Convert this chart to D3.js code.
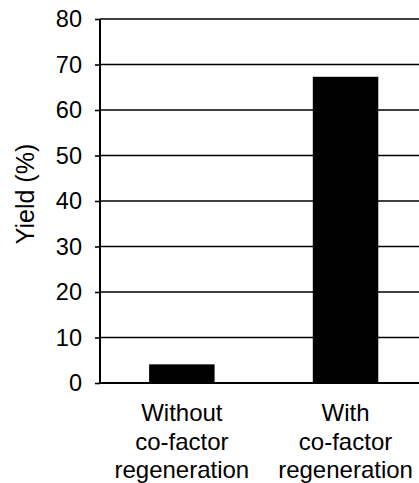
<!DOCTYPE html>
<html>
<head>
<meta charset="utf-8">
<script src="https://cdn.jsdelivr.net/npm/d3@7"></script>
<style>
  html, body { margin: 0; padding: 0; background: #fff; }
  svg { display: block; }
  text { font-family: "Liberation Sans", Arial, sans-serif; fill: #000; }
</style>
</head>
<body>
<svg id="chart" width="419" height="483"></svg>
<script>
const categories = [
  ["Without", "co-factor", "regeneration"],
  ["With", "co-factor", "regeneration"]
];
const categoryKeys = ["without", "with"];
const yields = [4.1, 67.3];
const yTicks = [0, 10, 20, 30, 40, 50, 60, 70, 80];
const yTitle = "Yield (%)";

const svg = d3.select("#chart");
const plotLeft = 100, plotRight = 427.4, plotTop = 19, plotBottom = 383;

const x = d3.scaleBand().domain(categoryKeys).range([plotLeft, plotRight])
  .paddingInner(0.6).paddingOuter(0.3);
const y = d3.scaleLinear().domain([0, 80]).range([plotBottom, plotTop]);

// gridlines
svg.append("g").selectAll("line").data(yTicks.filter(d => d > 0)).join("line")
  .attr("x1", plotLeft).attr("x2", 419)
  .attr("y1", d => y(d)).attr("y2", d => y(d))
  .attr("stroke", "#000").attr("stroke-width", 1.4);

// bars
svg.append("g").selectAll("rect").data(yields).join("rect")
  .attr("x", (d, i) => x(categoryKeys[i]))
  .attr("width", x.bandwidth())
  .attr("y", d => y(d))
  .attr("height", d => y(0) - y(d))
  .attr("fill", "#000");

// y axis
const yAxis = d3.axisLeft(y).tickValues(yTicks).tickSize(5).tickPadding(13)
  .tickFormat(d3.format("d"));
const gy = svg.append("g").attr("transform", `translate(${plotLeft},0)`).call(yAxis);
gy.select(".domain").attr("d", `M0,${plotTop}V${plotBottom}`).attr("stroke-width", 2);
gy.selectAll(".tick line").attr("stroke-width", 1.6);
gy.selectAll(".tick text").attr("font-size", 23.5)
  .style("font-family", "'Liberation Sans', Arial, sans-serif");

// baseline
svg.append("line").attr("x1", plotLeft).attr("x2", 419)
  .attr("y1", y(0)).attr("y2", y(0)).attr("stroke", "#000").attr("stroke-width", 2);

// x labels
const gx = svg.append("g");
categoryKeys.forEach((k, i) => {
  const cx = x(k) + x.bandwidth() / 2;
  const t = gx.append("text").attr("text-anchor", "middle").attr("font-size", 24);
  categories[i].forEach((line, j) => {
    t.append("tspan").attr("x", cx).attr("y", 421 + j * 28.5).text(line);
  });
});

// y title
svg.append("text")
  .attr("transform", `translate(34,194) rotate(-90)`)
  .attr("text-anchor", "middle").attr("font-size", 25)
  .text(yTitle);
</script>
</body>
</html>
